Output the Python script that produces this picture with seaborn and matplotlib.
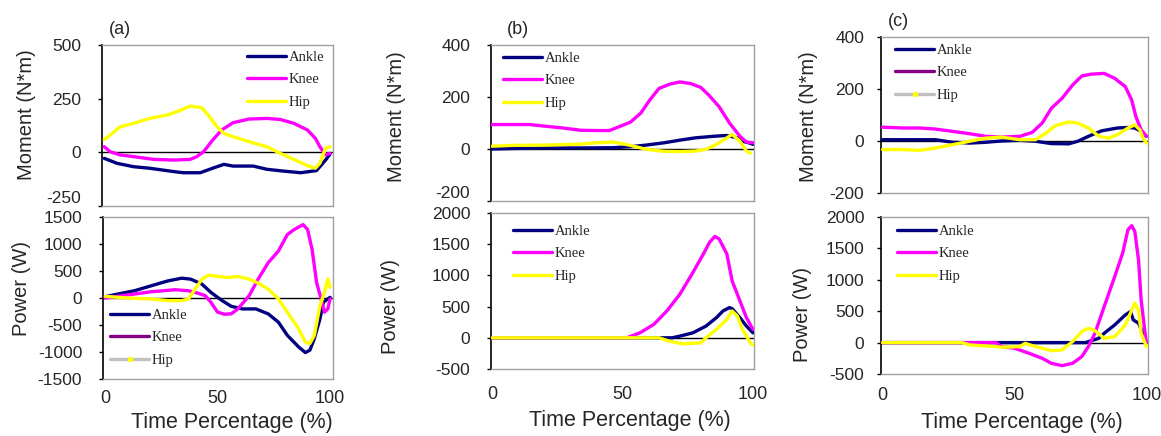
import numpy as np
import pandas as pd
import matplotlib
matplotlib.use("Agg")
import matplotlib.pyplot as plt
from matplotlib.lines import Line2D
import seaborn as sns

# ---------------- data ----------------
# (a) Moment
a_m_ankle_x = [0, 5.6, 13, 20, 31, 35, 42.5, 48, 53, 57, 66, 72, 79, 87, 94, 98, 100]
a_m_ankle_y = [-28, -51, -67, -74, -90, -95, -95, -74, -56, -64, -64, -79, -87, -95, -85, -36, -8]
a_m_knee_x = [0, 2.6, 7, 13, 22, 31, 38, 41, 44, 48, 52, 57, 64, 72, 78, 84, 90, 93.5, 95.5, 98, 100]
a_m_knee_y = [26, 3, -12, -20, -33, -36, -33, -20, 3, 57, 104, 138, 155, 158, 153, 135, 104, 65, 26, -12, -5]
a_m_hip_x = [0, 2.6, 7, 13, 20, 28, 34, 38, 43, 45.5, 50, 53, 57, 64, 72, 78, 84, 90, 93.5, 95.5, 98, 100]
a_m_hip_y = [60, 80, 119, 135, 158, 174, 197, 215, 209, 181, 119, 88, 73, 50, 26, -5, -33, -62, -74, -51, 19, 26]

# (a) Power
a_p_ankle_x = [0, 5.6, 13, 20.5, 28, 34, 38, 43, 47, 52, 56, 61, 67, 72.5, 77, 81, 86, 89, 91, 93, 95.5, 97, 99, 100]
a_p_ankle_y = [25, 73, 135, 227, 318, 367, 349, 257, 104, -49, -153, -202, -202, -294, -447, -692, -906, -1010, -967, -753, -386, -80, -18, 12]
a_p_knee_x = [0, 5.6, 13, 20.5, 31, 37, 41, 44.5, 47, 50, 53, 56, 59, 64, 68, 72.5, 77, 81, 84, 88, 90, 92, 94, 96, 97.5, 99, 100]
a_p_knee_y = [0, 31, 73, 116, 153, 135, 92, 43, -80, -263, -300, -294, -202, 43, 349, 655, 869, 1175, 1267, 1359, 1267, 900, 288, -18, -263, -202, -18]
a_p_hip_x = [0, 5.6, 13, 20.5, 28, 34, 37, 40, 43, 46, 50, 55, 59, 64, 68, 72.5, 77, 81, 86, 89, 91, 93, 95.5, 97.5, 99, 100]
a_p_hip_y = [31, 12, -6, -18, -49, -49, -18, 165, 349, 423, 398, 380, 398, 349, 276, 165, -18, -263, -569, -814, -845, -692, -141, 104, 349, 196]

# (b) Moment
b_m_ankle_x = [0, 8.3, 21, 34, 46.5, 53, 59, 66, 72, 78, 85, 90, 94, 96, 99, 100]
b_m_ankle_y = [0, 2, 4, 4, 5, 9, 15, 24, 34, 43, 49, 52, 43, 30, 22, 18]
b_m_knee_x = [0, 14.6, 21, 27, 34, 40, 45, 49, 53, 57, 60.5, 64, 68, 72, 76, 80, 83, 87, 91, 95, 97.5, 100]
b_m_knee_y = [94, 94, 87, 81, 72, 71, 71, 87, 103, 138, 189, 233, 249, 258, 252, 237, 208, 163, 100, 49, 27, 24]
b_m_hip_x = [0, 8.3, 21, 34, 40, 46.5, 53, 59, 66, 72, 78, 82, 86, 90, 92, 95, 97.5, 99]
b_m_hip_y = [11, 14, 15, 19, 24, 27, 14, -1, -9, -10, -8, -1, 18, 43, 56, 30, -8, -16]

# (b) Power
b_p_ankle_x = [0, 69, 72, 77, 82, 86, 88.5, 91, 92, 95, 97.5, 100]
b_p_ankle_y = [0, 0, 27, 80, 188, 323, 430, 484, 468, 323, 188, 80]
b_p_knee_x = [0, 51.6, 56.7, 62, 67, 72, 77, 81, 83.4, 85.4, 87, 90, 92, 95, 97.5, 100]
b_p_knee_y = [0, 0, 80, 215, 430, 699, 1048, 1344, 1532, 1624, 1586, 1344, 914, 591, 323, 134]
b_p_hip_x = [0, 64, 68, 73, 80, 82, 86, 90, 92, 94, 96, 99, 100]
b_p_hip_y = [0, 0, -54, -97, -81, 0, 134, 296, 430, 350, 134, -81, -118]

# (c) Moment
c_m_ankle_x = [0, 20, 26.6, 33, 39, 45, 52, 58, 64, 70.5, 74, 78, 83, 89, 93, 95.6, 98, 100]
c_m_ankle_y = [5, 5, -5, -8, -5, 0, 3, -1, -10, -11, -1, 18, 39, 50, 52, 50, 37, 18]
c_m_knee_x = [0, 7.8, 14, 20, 26.6, 33, 39, 45, 52, 56.7, 60.5, 64, 68, 72, 75.5, 79, 84, 88, 92, 94.4, 96, 98, 100]
c_m_knee_y = [53, 50, 50, 46, 37, 28, 18, 15, 18, 33, 69, 126, 164, 215, 250, 257, 260, 241, 209, 158, 94, 43, 18]
c_m_hip_x = [0, 7.8, 14, 20, 26.6, 33, 39, 45, 52, 58, 62, 65.5, 70.5, 74, 78, 82, 85.6, 89, 93, 95.6, 97.5, 98.7, 100]
c_m_hip_y = [-33, -33, -36, -27, -14, -1, 11, 15, 5, 5, 31, 59, 73, 69, 50, 18, 11, 24, 50, 62, 43, 11, -8]

# (c) Power
c_p_ankle_x = [0, 77, 78, 82, 84, 88, 92, 94, 95, 97, 98.7, 100]
c_p_ankle_y = [0, 0, 16, 69, 149, 282, 441, 495, 362, 309, 149, 0]
c_p_knee_x = [0, 43, 45, 50, 55.5, 60.5, 64, 68, 72, 75.5, 78, 80.5, 84, 88, 91, 93, 94.4, 95.6, 97, 98, 99.5, 100]
c_p_knee_y = [0, 0, -64, -90, -170, -250, -330, -367, -330, -223, -64, 149, 574, 1053, 1426, 1798, 1862, 1771, 1319, 681, 149, 0]
c_p_hip_x = [0, 30, 33, 43, 45, 52, 54, 58, 64, 68, 72, 75.5, 78, 80.5, 84, 88, 92, 95.6, 97, 98, 100]
c_p_hip_y = [0, 0, -37, -64, -74, -64, -11, -64, -128, -117, 16, 176, 229, 191, 69, 96, 282, 628, 521, 149, -64]

joints = ["Ankle", "Knee", "Hip"]
panel_labels = ["(a)", "(b)", "(c)"]
moment_label = "Moment (N*m)"
power_label = "Power (W)"
x_label = "Time Percentage (%)"
x_ticks = [0, 50, 100]
moment_ticks = [[-250, 0, 250, 500], [-200, 0, 200, 400], [-200, 0, 200, 400]]
power_ticks = [[-1500, -1000, -500, 0, 500, 1000, 1500],
               [-500, 0, 500, 1000, 1500, 2000],
               [-500, 0, 500, 1000, 1500, 2000]]

series = {
    ("a", "m"): [(a_m_ankle_x, a_m_ankle_y), (a_m_knee_x, a_m_knee_y), (a_m_hip_x, a_m_hip_y)],
    ("a", "p"): [(a_p_ankle_x, a_p_ankle_y), (a_p_knee_x, a_p_knee_y), (a_p_hip_x, a_p_hip_y)],
    ("b", "m"): [(b_m_ankle_x, b_m_ankle_y), (b_m_knee_x, b_m_knee_y), (b_m_hip_x, b_m_hip_y)],
    ("b", "p"): [(b_p_ankle_x, b_p_ankle_y), (b_p_knee_x, b_p_knee_y), (b_p_hip_x, b_p_hip_y)],
    ("c", "m"): [(c_m_ankle_x, c_m_ankle_y), (c_m_knee_x, c_m_knee_y), (c_m_hip_x, c_m_hip_y)],
    ("c", "p"): [(c_p_ankle_x, c_p_ankle_y), (c_p_knee_x, c_p_knee_y), (c_p_hip_x, c_p_hip_y)],
}

# ---------------- style ----------------
sns.set_theme(style="white")
plt.rcParams["font.family"] = ["Liberation Sans", "DejaVu Sans"]

W, H = 1161, 436
fig = plt.figure(figsize=(W / 100, H / 100), dpi=100)

colors = ["#000080", "#FF00FF", "#FFFF00"]

# pixel boxes: left, top, right, bottom
boxes = {
    ("a", "m"): (102, 45, 333, 206),
    ("a", "p"): (103, 217, 333, 379),
    ("b", "m"): (491, 45, 754, 201),
    ("b", "p"): (491, 213, 754, 369),
    ("c", "m"): (881, 37, 1148, 193),
    ("c", "p"): (881, 217, 1148, 374),
}
xlims = {"a": (-1, 101.3), "b": (-0.4, 100.4), "c": (-0.6, 100.6)}
ylab_pos = {  # center of y-label in pixels
    ("a", "m"): (26, 115), ("a", "p"): (22, 288),
    ("b", "m"): (397, 117), ("b", "p"): (390, 307),
    ("c", "m"): (808, 117), ("c", "p"): (803, 314),
}
xlab_pos = {"a": (232, 422), "b": (630, 420), "c": (1022, 422)}
title_pos = {"a": (120, 29), "b": (518, 29), "c": (898, 21)}
xtick_pad = {"a": 8, "b": 12, "c": 9}
ytick_pad = {"a": 12, "b": 12, "c": 9}
raise_bottom_label = {"a": True, "b": True, "c": False}
# legend: (handle start x, first row y) in pixels
leg_pos = {
    ("a", "m"): (247, 60), ("a", "p"): (110, 318),
    ("b", "m"): (503, 61), ("b", "p"): (513, 234),
    ("c", "m"): (895, 53), ("c", "p"): (897, 234),
}

def to_fig(px, py):
    return px / W, 1 - py / H

for ci, col in enumerate(["a", "b", "c"]):
    for kind in ["m", "p"]:
        l, t, r, b = boxes[(col, kind)]
        ax = fig.add_axes([l / W, 1 - b / H, (r - l) / W, (b - t) / H])
        ax.axhline(0, color="black", lw=1.0, zorder=1)
        for (xs, ys), c, name in zip(series[(col, kind)], colors, joints):
            sns.lineplot(x=xs, y=ys, ax=ax, color=c, lw=2.4, legend=False,
                         errorbar=None, zorder=3)
        ax.set_xlim(*xlims[col])
        ticks = moment_ticks[ci] if kind == "m" else power_ticks[ci]
        ax.set_ylim(ticks[0], ticks[-1])
        ax.set_yticks(ticks)
        ax.set_yticklabels([str(v) for v in ticks])
        ax.tick_params(axis="y", left=True, length=3, width=1, color="black",
                       direction="out", labelsize=12.5, pad=ytick_pad[col])
        if kind == "m" and raise_bottom_label[col]:
            ax.get_yticklabels()[0].set_va("bottom")
        if kind == "p":
            ax.set_xticks(x_ticks)
            ax.set_xticklabels([str(v) for v in x_ticks])
            ax.tick_params(axis="x", length=0, labelsize=13, pad=xtick_pad[col])
        else:
            ax.set_xticks([])
        ax.set_xlabel("")
        for s in ["top", "right", "bottom"]:
            ax.spines[s].set_color("#a0a0a0")
            ax.spines[s].set_linewidth(1.0)
        ax.spines["left"].set_color("black")
        ax.spines["left"].set_linewidth(1.2)
        ax.set_facecolor("white")

        # y label
        ax.set_ylabel(moment_label if kind == "m" else power_label, fontsize=14.5)
        ax.yaxis.label.set_va("center")
        ax.yaxis.label.set_ha("center")
        lx, ly = ylab_pos[(col, kind)]
        ax.yaxis.set_label_coords((lx - l) / (r - l), (b - ly) / (b - t))

        # legend handles
        handles = [Line2D([], [], color=colors[0], lw=2.4),
                   Line2D([], [], color=colors[1], lw=2.4),
                   Line2D([], [], color=colors[2], lw=2.4)]
        if (col, kind) in [("a", "p"), ("c", "m")]:
            handles[1] = Line2D([], [], color="#800080", lw=2.4)
            handles[2] = Line2D([], [], color="#c0c0c0", lw=2.4, marker="o",
                                markersize=3, markerfacecolor="#FFFF00",
                                markeredgecolor="#FFFF00", markevery=[0, 1])
        hx, hy = leg_pos[(col, kind)]
        fx, fy = to_fig(hx, hy - 9)
        ax.legend(handles, joints, loc="upper left", bbox_to_anchor=(fx, fy),
                  bbox_transform=fig.transFigure, frameon=False,
                  prop={"family": "Liberation Serif", "size": 10.5},
                  handlelength=2.7, handletextpad=0.15, labelspacing=0.62,
                  borderpad=0, borderaxespad=0)

    # x label and panel title
    xx, xy = xlab_pos[col]
    fx, fy = to_fig(xx, xy)
    fig.text(fx, fy, x_label, ha="center", va="center", fontsize=15.5)
    tx, ty = title_pos[col]
    fx, fy = to_fig(tx, ty)
    fig.text(fx, fy, panel_labels[ci], ha="center", va="center", fontsize=13)

fig.savefig("out.png", dpi=100)
